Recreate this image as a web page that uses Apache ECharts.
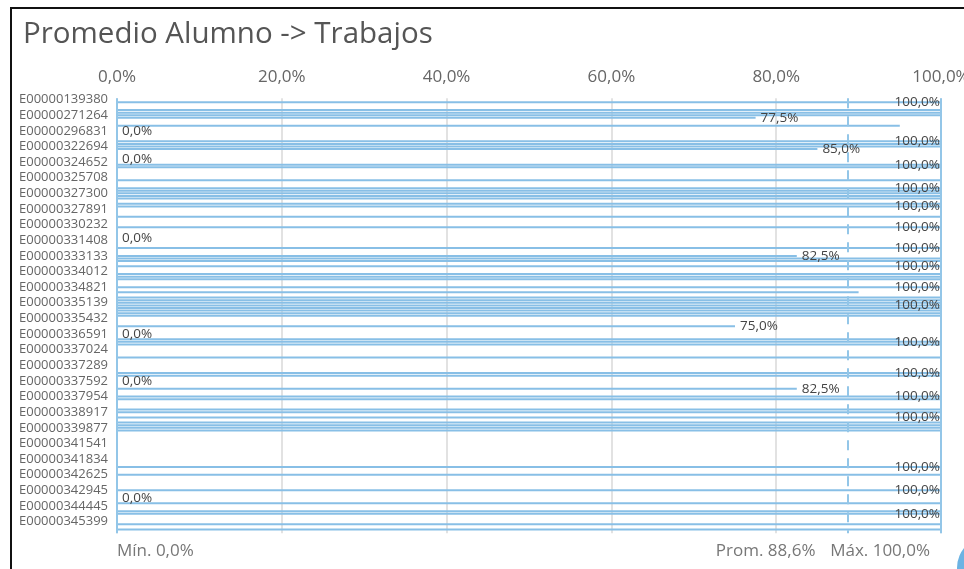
<!DOCTYPE html>
<html>
<head>
<meta charset="utf-8">
<title>Promedio Alumno -> Trabajos</title>
<script src="https://cdn.jsdelivr.net/npm/echarts@6/dist/echarts.min.js"></script>
<style>
  html, body { margin: 0; padding: 0; background: #fff; overflow: hidden; }
  #chart { width: 964px; height: 569px; }
</style>
</head>
<body>
<div id="chart"></div>
<script>
// Student IDs shown on the category axis (one every six rows)
const studentIds = [
  'E00000139380', 'E00000271264', 'E00000296831', 'E00000322694',
  'E00000324652', 'E00000325708', 'E00000327300', 'E00000327891',
  'E00000330232', 'E00000331408', 'E00000333133', 'E00000334012',
  'E00000334821', 'E00000335139', 'E00000335432', 'E00000336591',
  'E00000337024', 'E00000337289', 'E00000337592', 'E00000337954',
  'E00000338917', 'E00000339877', 'E00000341541', 'E00000341834',
  'E00000342625', 'E00000342945', 'E00000344445', 'E00000345399'
];
const rowsPerLabel = 6;

// Average grade per student row (%), null = no submitted work
const rowValues = [
  null, 100, null, null, 100, 100,
  100, 77.5, null, null, 95, null,
  0, null, null, null, 100, 100,
  100, 85, null, null, null, 0,
  null, 100, 100, null, null, null,
  null, 100, null, null, 100, 100,
  100, 100, 100, null, 100, 100,
  null, null, null, 100, null, null,
  null, 100, null, null, null, 0,
  null, null, null, 100, null, null,
  82.5, 100, 100, null, 100, null,
  null, 100, 100, 100, null, null,
  100, null, 90, null, 100, 100,
  100, 100, 100, 100, 100, 100,
  null, null, null, 75, null, null,
  0, 0, 95, 100, 100, null,
  null, null, null, 100, null, null,
  null, null, null, 100, 100, null,
  0, null, null, 82.5, null, null,
  100, 100, null, null, null, 100,
  100, null, 100, null, 100, 100,
  100, 100, null, null, null, null,
  null, null, null, null, null, null,
  null, null, null, 100, null, null,
  100, null, null, null, null, null,
  100, null, null, 0, null, 100,
  null, null, 100, 100, null, null,
  null, 100, null, 100, null
];

// Percent axis ticks
const axisMin = 0;
const axisMax = 100;
const axisStep = 20;

const FONT = '"Open Sans", "Noto Sans", sans-serif';
const pct = v => Number(v).toFixed(1).replace('.', ',') + '%';

const rowNames = rowValues.map((_, i) =>
  i % rowsPerLabel === 0 ? (studentIds[i / rowsPerLabel] || '') : '');

// Full-scale bars keep their label inside the plot edge
const barData = rowValues.map(v => v == null ? '-' : {
  value: v,
  label: v >= axisMax ? { position: 'insideRight', distance: 1 } : { position: 'right', distance: 5 }
});

const chart = echarts.init(document.getElementById('chart'), null, { renderer: 'canvas' });

const refLine = { color: '#93c6e8', width: 2, type: 'solid' };
const refLabel = { show: true, position: 'end', distance: 9, fontSize: 17, color: '#777', fontFamily: FONT };

chart.setOption({
  animation: false,
  backgroundColor: '#ffffff',
  title: {
    text: 'Promedio Alumno -> Trabajos',
    left: 18,
    top: 15,
    textStyle: { fontFamily: FONT, fontSize: 29.5, fontWeight: 'normal', color: '#555' }
  },
  graphic: [
    {
      type: 'rect', silent: true, z: 100,
      shape: { x: 11, y: 8, width: 1000, height: 620 },
      style: { fill: 'none', stroke: '#111', lineWidth: 2 }
    },
    {
      type: 'circle', silent: true, z: 100,
      shape: { cx: 989, cy: 568, r: 32 },
      style: { fill: '#6cb3e3' }
    }
  ],
  grid: {
    left: 117, right: 23, top: 98.3, bottom: 35.7,
    containLabel: false,
    outerBoundsMode: 'none'
  },
  xAxis: {
    type: 'value',
    position: 'top',
    min: axisMin,
    max: axisMax,
    interval: axisStep,
    axisLine: { show: false },
    axisTick: { show: false },
    axisLabel: { fontFamily: FONT, fontSize: 17, color: '#666', margin: 13, formatter: pct },
    splitLine: { show: true, lineStyle: { color: '#d9d9d9', width: 1.5 } }
  },
  yAxis: {
    type: 'category',
    inverse: true,
    data: rowNames,
    axisLine: { show: false },
    axisTick: { show: false },
    axisLabel: { interval: 0, fontFamily: FONT, fontSize: 13, color: '#666', margin: 9 }
  },
  series: [{
    type: 'bar',
    data: barData,
    barWidth: 2,
    itemStyle: { color: '#88bfe6' },
    label: {
      show: true,
      offset: [0, 2],
      lineHeight: 16,
      fontFamily: FONT,
      fontSize: 13.5,
      color: '#444',
      formatter: p => pct(p.value)
    },
    labelLayout: { hideOverlap: true },
    markLine: {
      silent: true,
      symbol: 'none',
      precision: 3,
      data: [
        {
          type: 'min', valueDim: 'x', name: 'Mín.',
          lineStyle: refLine,
          label: Object.assign({}, refLabel, { align: 'left', formatter: p => p.name + ' ' + pct(p.value) })
        },
        {
          type: 'average', valueDim: 'x', name: 'Prom.',
          lineStyle: { color: '#93c6e8', width: 2, type: [10, 8] },
          label: Object.assign({}, refLabel, { align: 'right', padding: [0, 32, 0, 0], formatter: p => p.name + ' ' + pct(p.value) })
        },
        {
          type: 'max', valueDim: 'x', name: 'Máx.',
          lineStyle: refLine,
          label: Object.assign({}, refLabel, { align: 'right', padding: [0, 11, 0, 0], formatter: p => p.name + ' ' + pct(p.value) })
        }
      ]
    }
  }]
});
</script>
</body>
</html>
